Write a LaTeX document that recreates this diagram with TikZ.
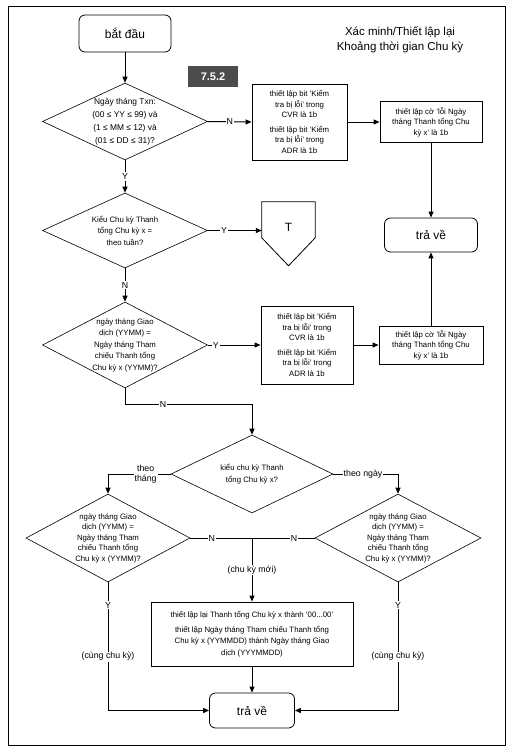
\documentclass[tikz,border=0pt]{standalone}
\usepackage{fontspec}
\setmainfont{Liberation Sans}
\usetikzlibrary{shapes.geometric,arrows.meta,calc}
\begin{document}
\begin{tikzpicture}[x=1pt,y=-1pt,
  box/.style={draw,line width=0.8pt,align=center,inner sep=1pt,font=\fontsize{7.8}{10.5}\selectfont},
  term/.style={draw,line width=0.8pt,rounded corners=6pt,font=\fontsize{12}{14}\selectfont},
  dec/.style={draw,diamond,line width=0.6pt,inner sep=0pt},
  dt/.style={align=center,font=\fontsize{7.8}{11.5}\selectfont},
  lbl/.style={fill=white,inner sep=1pt,font=\fontsize{8.8}{10}\selectfont},
  arr/.style={line width=1pt,-{Triangle[length=6pt,width=5pt]}},
  ln/.style={line width=1pt}]
\useasboundingbox (0,0) rectangle (522,752);
\draw[line width=1pt] (8,7) rectangle (505,745);
\node[align=center,font=\fontsize{11.5}{15}\selectfont] (ttl) at (400,40) {Xác minh/Thiết lập lại\\Khoảng thời gian Chu kỳ};
\node[fill=black!70,text=white,font=\bfseries\fontsize{11}{11}\selectfont,minimum width=50pt,minimum height=21pt] (sec) at (213,76.5) {7.5.2};
\node[term,minimum width=92pt,minimum height=37pt] (s) at (125,33.5) {bắt đầu};
\node[dec,minimum width=165pt,minimum height=77pt,label={[dt,font=\fontsize{8.4}{13}\selectfont]center:{Ngày tháng Txn:\\(00 ≤ YY ≤ 99) và\\(1 ≤ MM ≤ 12) và\\(01 ≤ DD ≤ 31)?}}] (d1) at (125,121.5) {};
\node[box,minimum width=95pt,minimum height=76pt] (b1) at (299.5,122) {thiết lập bit 'Kiểm\\tra bị lỗi' trong\\CVR là 1b\\[4pt]thiết lập bit 'Kiểm\\tra bị lỗi' trong\\ADR là 1b};
\node[box,minimum width=102pt,minimum height=41pt] (b2) at (431,122) {thiết lập cờ 'lỗi Ngày\\tháng Thanh tổng Chu\\kỳ x' là 1b};
\node[term,minimum width=93pt,minimum height=34pt] (r1) at (431,235) {trả về};
\node[dec,minimum width=165pt,minimum height=75pt,label={[dt]center:{Kiểu Chu kỳ Thanh\\tổng Chu kỳ x =\\theo tuần?}}] (d2) at (125,230.5) {};
\node[minimum width=53pt,minimum height=50pt,inner sep=0pt,font=\fontsize{12}{13}\selectfont] (T) at (288.5,227) {T};
\draw[line width=0.8pt] ($(T.north west)+(0,36)$) -- (T.north west) -- (T.north east) -- ($(T.north east)+(0,36)$) -- ($(T.north)+(0,64)$) -- cycle;
\node[dec,minimum width=165pt,minimum height=86pt,label={[dt]center:{ngày tháng Giao\\dịch (YYMM) =\\Ngày tháng Tham\\chiếu Thanh tổng\\Chu kỳ x (YYMM)?}}] (d3) at (125,345) {};
\node[box,minimum width=92pt,minimum height=78pt] (b3) at (307,345) {thiết lập bit 'Kiểm\\tra bị lỗi' trong\\CVR là 1b\\[4pt]thiết lập bit 'Kiểm\\tra bị lỗi' trong\\ADR là 1b};
\node[box,minimum width=104pt,minimum height=38pt] (b4) at (431,345) {thiết lập cờ 'lỗi Ngày\\tháng Thanh tổng Chu\\kỳ x' là 1b};
\node[dec,minimum width=162pt,minimum height=78pt,label={[dt]center:{kiểu chu kỳ Thanh\\tổng Chu kỳ x?}}] (d4) at (252,474) {};
\node[dec,minimum width=164pt,minimum height=88pt,label={[dt,font=\fontsize{7.8}{10.5}\selectfont]center:{ngày tháng Giao\\dịch (YYMM) =\\Ngày tháng Tham\\chiếu Thanh tổng\\Chu kỳ x (YYMM)?}}] (d5) at (108,538) {};
\node[dec,minimum width=166pt,minimum height=88pt,label={[dt,font=\fontsize{7.8}{10.5}\selectfont]center:{ngày tháng Giao\\dịch (YYMM) =\\Ngày tháng Tham\\chiếu Thanh tổng\\Chu kỳ x (YYMM)?}}] (d6) at (398,538) {};
\coordinate (j) at (252,538);
\node[box,minimum width=202pt,minimum height=64pt,font=\fontsize{7.8}{11.5}\selectfont] (b5) at (252,634) {thiết lập lại Thanh tổng Chu kỳ x thành '00...00'\\[3pt]thiết lập Ngày tháng Tham chiếu Thanh tổng\\Chu kỳ x (YYMMDD) thành Ngày tháng Giao\\dịch (YYYMMDD)};
\node[term,minimum width=85pt,minimum height=35pt] (r2) at (252,710.5) {trả về};
\draw[arr] (s.south) -- (d1.north);
\draw[arr] (d1.east) -- node[lbl]{N} (b1.west);
\draw[arr] (b1.east) -- (b2.west);
\draw[arr] (b2.south) -- (r1.north);
\draw[arr] (d1.south) -- node[lbl]{Y} (d2.north);
\draw[arr] (d2.east) -- node[lbl,pos=0.3]{Y} (d2.east -| T.west);
\draw[arr] (d2.south) -- node[lbl]{N} (d3.north);
\draw[arr] (d3.east) -- node[lbl,pos=0.15]{Y} (b3.west);
\draw[arr] (b3.east) -- (b4.west);
\draw[arr] (b4.north) -- (r1.south);
\draw[arr] (d3.south) -- ++(0,16) -| node[lbl,pos=0.15]{N} (d4.north);
\draw[arr] (d4.west) -| node[lbl,pos=0.2,align=center]{theo\\tháng} (d5.north);
\draw[arr] (d4.east) -| node[lbl,pos=0.23]{theo ngày} (d6.north);
\draw[ln] (d5.east) -- node[lbl,pos=0.35]{N} (j);
\draw[ln] (d6.west) -- node[lbl,pos=0.33]{N} (j);
\draw[arr] (j) -- node[lbl]{(chu kỳ mới)} (b5.north);
\draw[arr] (b5.south) -- (r2.north);
\draw[arr] (d5.south) |- node[lbl,pos=0.09]{Y} node[lbl,pos=0.29]{(cùng chu kỳ)} (r2.west);
\draw[arr] (d6.south) |- node[lbl,pos=0.09]{Y} node[lbl,pos=0.29]{(cùng chu kỳ)} (r2.east);
\end{tikzpicture}
\end{document}
